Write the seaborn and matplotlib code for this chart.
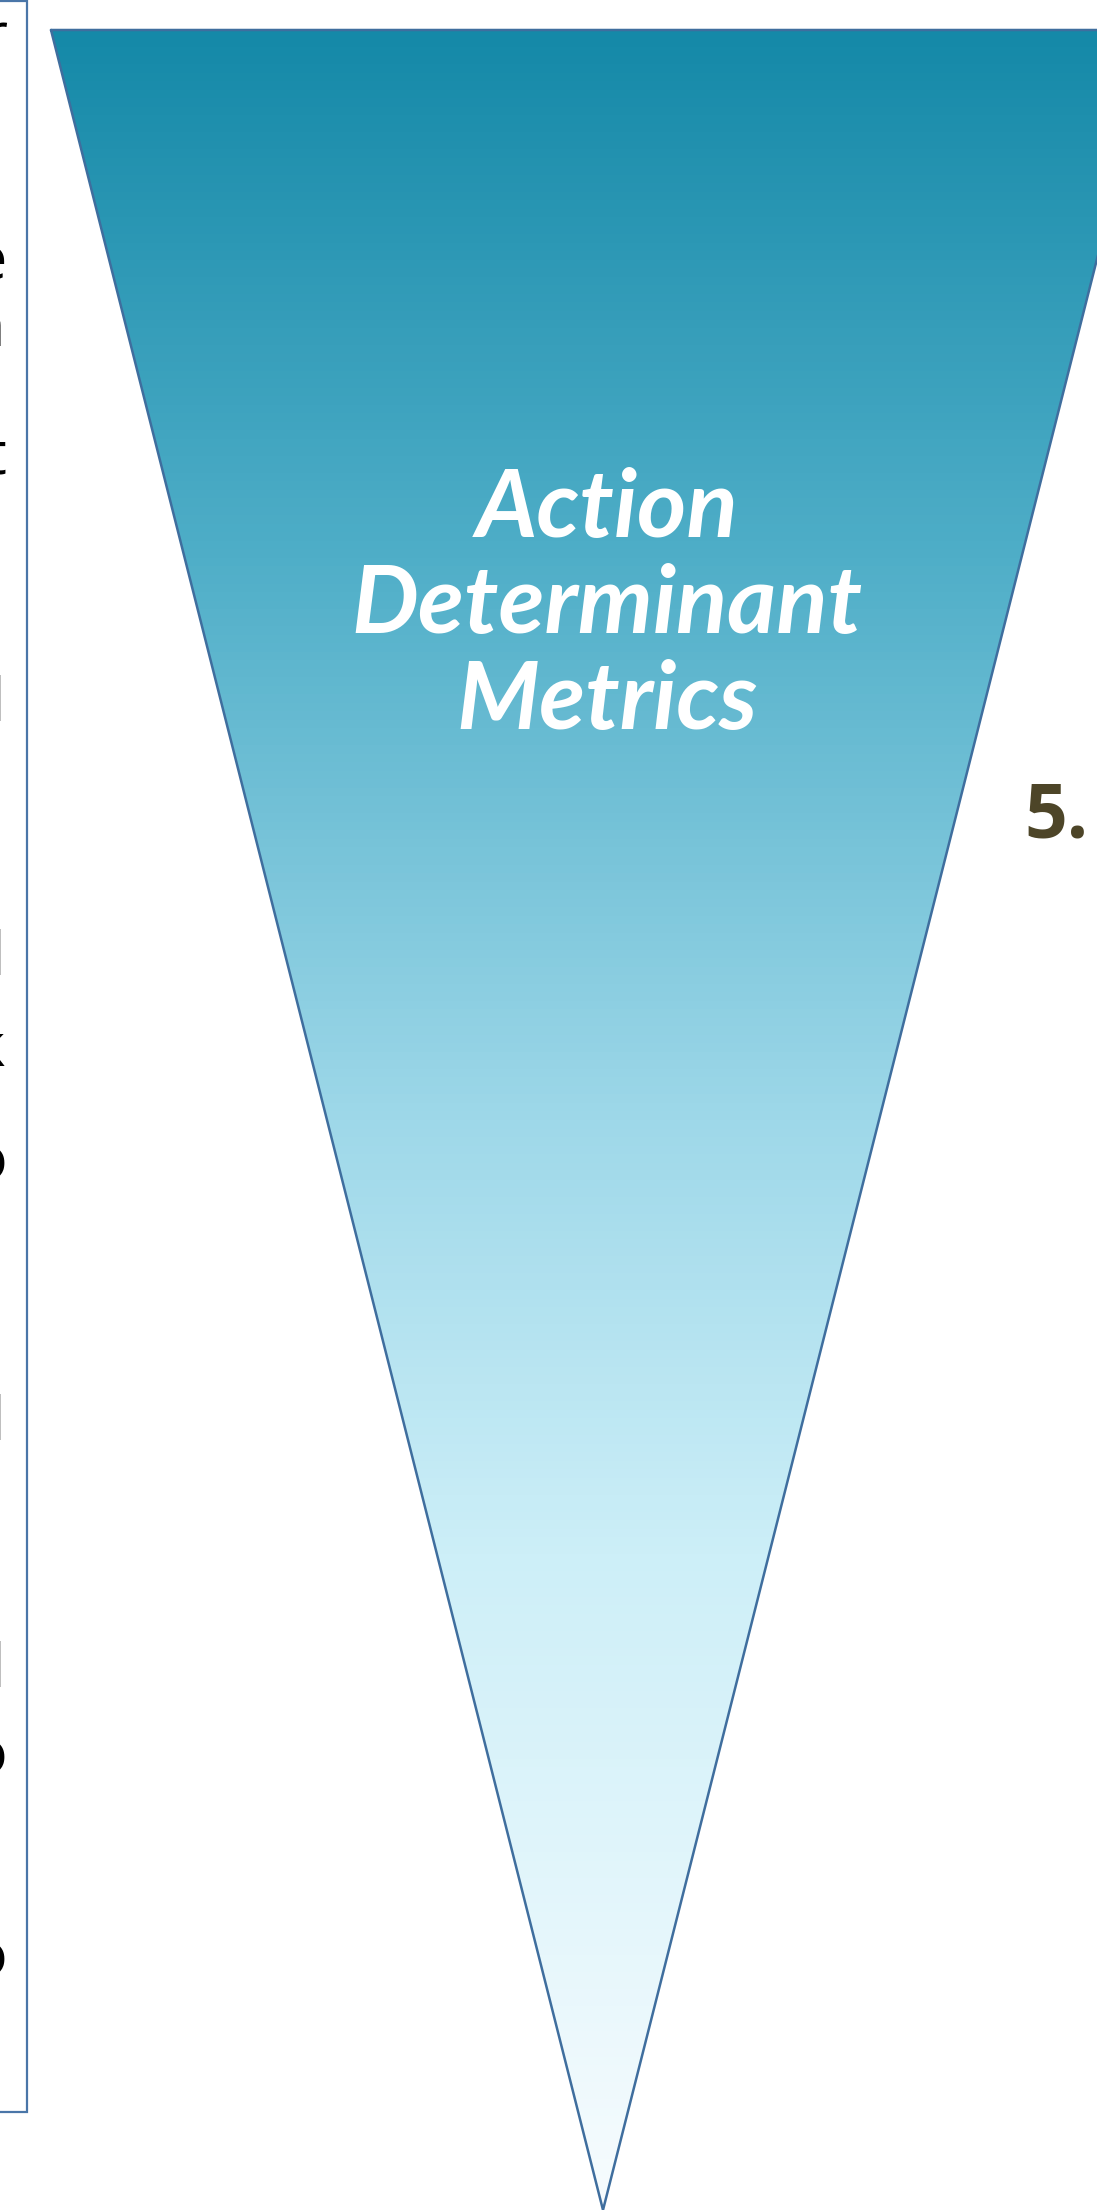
import numpy as np
import pandas as pd
import matplotlib
matplotlib.use("Agg")
import matplotlib.pyplot as plt
from matplotlib.colors import LinearSegmentedColormap
from matplotlib.patches import Polygon, Rectangle
import seaborn as sns

# ---- data ----
W, H = 1097, 2210
funnel_x = [51, 1155, 603, 51]
funnel_y = [30, 30, 2210, 30]
box_x = [-10, 27, 27, -10]
box_y = [1, 1, 2112, 2112]
grad_pos = [0.0, 0.24, 0.50, 0.70, 1.0]
grad_colors = ["#1589A8", "#4FAEC8", "#9ED8E9", "#CDEFF8", "#F7FCFE"]
title_lines = ["Action", "Determinant", "Metrics"]
title_y = [510, 606, 702]
title_x = 607
step_label = "5."
frag_chars = ["r", "e", "n", "t", "l", "l", "k", "o", "l", "l", "o", "o"]
frag_y = [39, 264, 330, 458, 705, 959, 1050, 1163, 1424, 1671, 1757, 1960]
frag_x = [8, 7, 5, 7, 5, 5, 5, 7, 5, 5, 7, 7]

sns.set_theme(style="white")
plt.rcParams["font.family"] = ["Lato", "DejaVu Sans"]

fig = plt.figure(figsize=(W / 100, H / 100), dpi=100)
ax = fig.add_axes([0, 0, 1, 1])
ax.set_xlim(0, W)
ax.set_ylim(H, 0)
ax.axis("off")

# gradient fill clipped to funnel
cmap = LinearSegmentedColormap.from_list("funnel", list(zip(grad_pos, grad_colors)))
grad = np.linspace(0, 1, 512).reshape(-1, 1)
top, bottom = min(funnel_y), max(funnel_y)
im = ax.imshow(grad, cmap=cmap, aspect="auto",
               extent=[min(funnel_x), max(funnel_x), bottom, top], zorder=1)
poly = Polygon(np.column_stack([funnel_x, funnel_y]), closed=True,
               facecolor="none", edgecolor="none", transform=ax.transData)
ax.add_patch(poly)
im.set_clip_path(poly)

# funnel outline
outline = pd.DataFrame({"x": funnel_x, "y": funnel_y})
sns.lineplot(data=outline, x="x", y="y", sort=False, estimator=None,
             color="#3F6E9E", linewidth=1.8, ax=ax, zorder=3)
ax.set_xlim(0, W)
ax.set_ylim(H, 0)
ax.axis("off")

# left box
ax.add_patch(Rectangle((box_x[0], box_y[0]), box_x[1] - box_x[0], box_y[2] - box_y[0],
                       facecolor="white", edgecolor="#4A76A8", linewidth=1.6, zorder=2))
for ch, yy, xx in zip(frag_chars, frag_y, frag_x):
    ax.text(xx, yy, ch, ha="right", va="center", fontsize=44, color="black",
            family=["Open Sans", "DejaVu Sans"], zorder=4)

# funnel title
for line, yy in zip(title_lines, title_y):
    ax.text(title_x, yy, line, ha="center", va="center", color="white",
            fontsize=68, fontweight="bold", fontstyle="italic", zorder=5)

# step number
ax.text(1024, 837, step_label, ha="left", va="baseline", color="#4D4528",
        fontsize=54, fontweight="bold", family=["Open Sans", "DejaVu Sans"], zorder=5)

fig.savefig("out.png", dpi=100)
